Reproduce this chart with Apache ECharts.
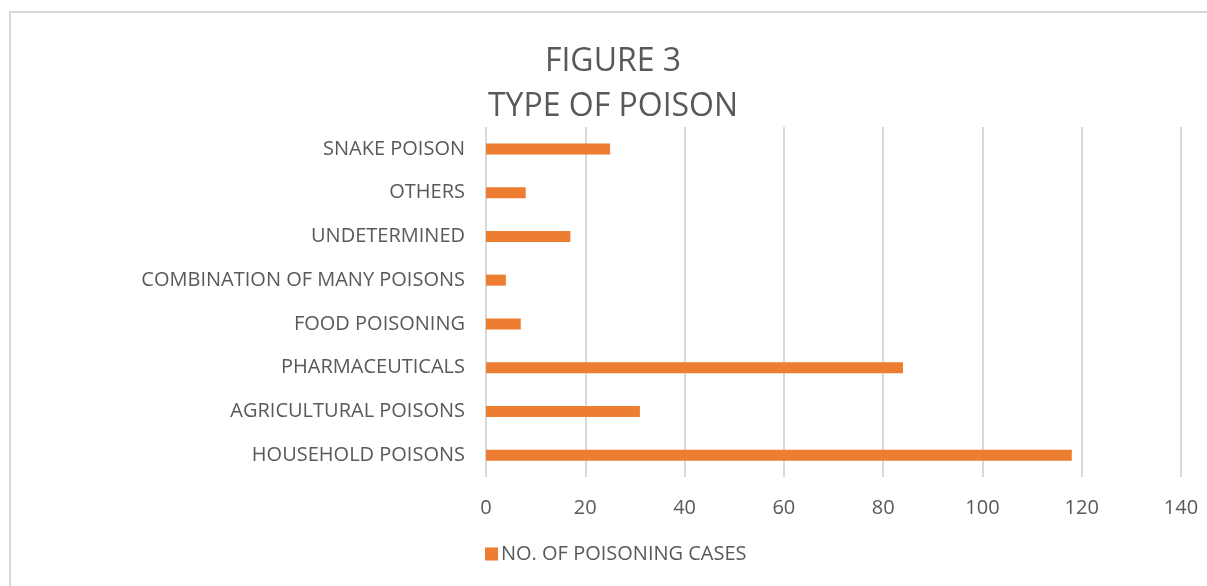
<!DOCTYPE html>
<html>
<head>
<meta charset="utf-8">
<script src="https://cdn.jsdelivr.net/npm/echarts@6/dist/echarts.min.js"></script>
<style>
html,body{margin:0;padding:0;background:#fff;}
#chart{width:1207px;height:586px;}
</style>
</head>
<body>
<div id="chart"></div>
<script>
const categories = ['HOUSEHOLD POISONS','AGRICULTURAL POISONS','PHARMACEUTICALS','FOOD POISONING','COMBINATION OF MANY POISONS','UNDETERMINED','OTHERS','SNAKE POISON'];
const cases = [118, 31, 84, 7, 4, 17, 8, 25];
const xTicks = { min: 0, max: 140, interval: 20 };
const seriesName = 'NO. OF POISONING CASES';

const font = '"Open Sans", "DejaVu Sans", sans-serif';
const chart = echarts.init(document.getElementById('chart'), null, {renderer: 'canvas'});
chart.setOption({
  animation: false,
  backgroundColor: '#fff',
  graphic: [{
    type: 'rect', silent: true,
    shape: {x: 10, y: 12, width: 1220, height: 600},
    style: {fill: 'none', stroke: '#d9d9d9', lineWidth: 2}
  }],
  title: {
    text: 'FIGURE 3\nTYPE OF POISON',
    left: 608, top: 34, textAlign: 'center',
    textStyle: {fontFamily: font, fontSize: 32, fontWeight: 'normal', color: '#595959', lineHeight: 45}
  },
  legend: {
    left: 480, top: 539,
    itemWidth: 13, itemHeight: 13, itemGap: 10,
    icon: 'rect',
    textStyle: {fontFamily: font, fontSize: 20, color: '#595959', padding: [0,0,0,-2]},
    data: [seriesName]
  },
  grid: {left: 486, right: 26, top: 127, bottom: 109, containLabel: false},
  xAxis: {
    type: 'value', min: xTicks.min, max: xTicks.max, interval: xTicks.interval,
    axisLine: {show: false}, axisTick: {show: false},
    axisLabel: {fontFamily: font, fontSize: 20, color: '#595959', margin: 21},
    splitLine: {show: true, lineStyle: {color: '#d9d9d9', width: 2}}
  },
  yAxis: {
    type: 'category', data: categories,
    axisLine: {show: false}, axisTick: {show: false},
    axisLabel: {fontFamily: font, fontSize: 20, color: '#595959', margin: 21}
  },
  series: [{
    name: seriesName, type: 'bar', data: cases,
    barWidth: 11,
    itemStyle: {color: '#ED7D31'}
  }]
});
</script>
</body>
</html>
